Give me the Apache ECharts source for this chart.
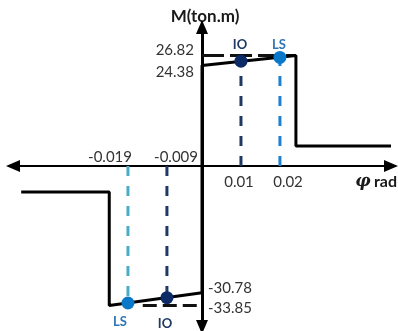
<!DOCTYPE html>
<html>
<head>
<meta charset="utf-8">
<script src="https://cdn.jsdelivr.net/npm/echarts@6/dist/echarts.min.js"></script>
<style>html,body{margin:0;padding:0;background:#fff;}#c{width:398px;height:331px;}</style>
</head>
<body>
<div id="c"></div>
<script>
// Moment-rotation backbone (phi in rad, M in ton.m)
const curvePhi = [-0.0464, -0.0238, -0.0238, 0, 0, 0.0241, 0.0241, 0.0485];
const curveM   = [-6.3, -6.3, -33.85, -30.78, 24.38, 26.82, 4.85, 4.85];
// Performance points
const ioPhi = [0.01, -0.009];
const ioM   = [25.45, -31.95];
const lsPhi = [0.02, -0.019];
const lsM   = [26.35, -33.25];
// Tick labels
const xTickLabels = ['-0.019', '-0.009', '0.01', '0.02'];
const yTickLabels = ['26.82', '24.38', '-30.78', '-33.85'];
const capM = [26.82, -33.85];

const IO_COL = '#1f3864', LS_COL = '#2e75b6', LS_NEG_COL = '#4bacc6';
const FONT = 'Lato';

const chart = echarts.init(document.getElementById('c'), null, {renderer: 'canvas'});

function pairs(xs, ys) { return xs.map((x, i) => [x, ys[i]]); }
function dashed(x1, y1, x2, y2, color, pattern) {
  return {
    type: 'line', data: [[x1, y1], [x2, y2]], symbol: 'none', silent: true,
    lineStyle: {color: color, width: 3, type: pattern || [10, 10], cap: 'butt'}, z: 2
  };
}

const series = [
  dashed(ioPhi[0], 0, ioPhi[0], ioM[0], '#203864'),
  dashed(lsPhi[0], 0, lsPhi[0], lsM[0], '#1f7fd0'),
  dashed(ioPhi[1], 0, ioPhi[1], ioM[1], '#203864'),
  dashed(lsPhi[1], 0, lsPhi[1], lsM[1], LS_NEG_COL),
  dashed(0, capM[0], 0.0241, capM[0], '#111', [22, 6]),
  dashed(-0.0152, capM[1], 0, capM[1], '#111', [14, 6]),
  {
    type: 'line', data: pairs(curvePhi, curveM), symbol: 'none', silent: true,
    lineStyle: {color: '#000', width: 3}, z: 3
  },
  {
    type: 'scatter', data: pairs(ioPhi, ioM), symbolSize: 13, silent: true,
    itemStyle: {color: '#0b2a66', opacity: 1}, z: 4
  },
  {
    type: 'scatter', data: pairs(lsPhi, lsM), symbolSize: 13, silent: true,
    itemStyle: {color: '#0a78c8', opacity: 1}, z: 4
  }
];

const txt = (text, x, y, align, extra) => ({
  type: 'text', x: x, y: y, silent: true,
  style: Object.assign({text: text, fill: '#333', font: '15px ' + FONT, align: align, verticalAlign: 'middle'}, extra || {})
});

const graphics = [
  txt(xTickLabels[0], 132, 157, 'right'),
  txt(xTickLabels[1], 198, 157, 'right'),
  txt(xTickLabels[2], 239, 182, 'center'),
  txt(xTickLabels[3], 288, 182, 'center'),
  txt(yTickLabels[0], 194, 50, 'right'),
  txt(yTickLabels[1], 194, 72, 'right'),
  txt(yTickLabels[2], 208, 288, 'left'),
  txt(yTickLabels[3], 208, 308, 'left'),
  txt('M(ton.m)', 205, 17, 'center', {font: 'bold 17px ' + FONT, fill: '#1a1a1a'}),
  {
    type: 'text', x: 397, y: 182, silent: true,
    style: {
      text: '{p|φ} {r|rad}', align: 'right', verticalAlign: 'middle',
      rich: {
        p: {font: 'italic bold 17px "DejaVu Serif"', fill: '#1a1a1a'},
        r: {font: 'bold 16px ' + FONT, fill: '#1a1a1a'}
      }
    }
  },
  txt('IO', 240, 45, 'center', {font: 'bold 13px ' + FONT, fill: IO_COL}),
  txt('LS', 279, 45, 'center', {font: 'bold 13px ' + FONT, fill: LS_COL}),
  txt('LS', 120, 322, 'center', {font: 'bold 13px ' + FONT, fill: LS_COL}),
  txt('IO', 165, 324, 'center', {font: 'bold 13px ' + FONT, fill: IO_COL})
];

chart.setOption({
  animation: false,
  backgroundColor: '#fff',
  grid: {left: 13, right: 7, top: 27, bottom: 4, containLabel: false},
  xAxis: {
    type: 'value', min: -0.0485, max: 0.0485,
    axisLine: {onZero: true, lineStyle: {color: '#000', width: 2}, symbol: ['triangle', 'triangle'], symbolSize: [12, 14]},
    axisTick: {show: false}, axisLabel: {show: false}, splitLine: {show: false}
  },
  yAxis: {
    type: 'value', min: -39.08, max: 33.74,
    axisLine: {show: true, onZero: true, lineStyle: {color: '#000', width: 3}, symbol: ['triangle', 'triangle'], symbolSize: [12, 14]},
    axisTick: {show: false}, axisLabel: {show: false}, splitLine: {show: false}
  },
  series: series,
  graphic: graphics
});
</script>
</body>
</html>
